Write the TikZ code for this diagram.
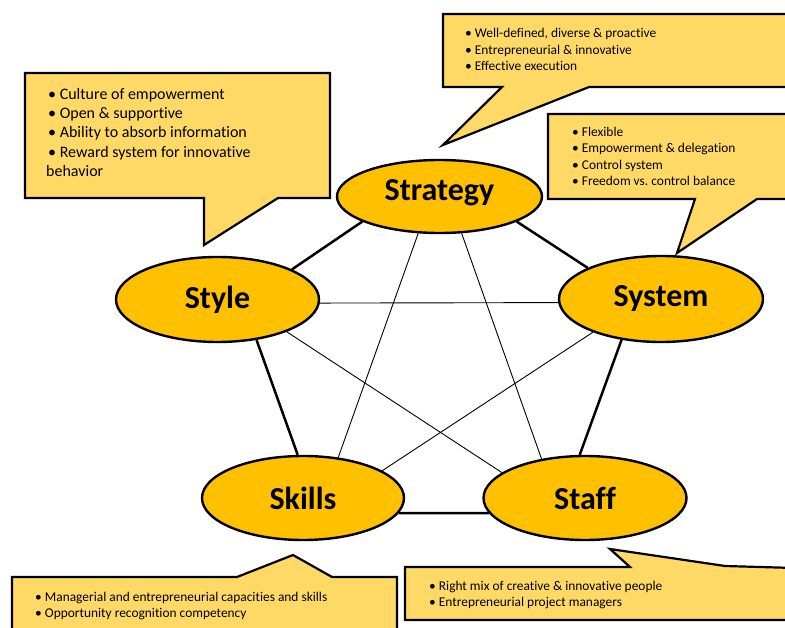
\documentclass[tikz,border=0pt]{standalone}
\usepackage{fontspec}
\setmainfont{Carlito}[Ligatures=NoCommon]
\usepackage{xcolor}
\usetikzlibrary{shapes, positioning}

\definecolor{gold}{HTML}{FFC000}
\definecolor{lightgold}{HTML}{FFD966}

\tikzset{
	factor/.style={ellipse, draw, line width=2.4pt, fill=gold, inner sep=0pt,
		font=\fontsize{32}{38}\selectfont\bfseries},
	callout/.style={draw, line width=2.2pt, fill=lightgold, line join=miter},
	notes/.style={anchor=north west, inner sep=0pt, align=left},
	outer/.style={line width=2.5pt},
	inner/.style={line width=0.9pt}
}

\begin{document}
\begin{tikzpicture}[x=1pt, y=-1pt]
			\useasboundingbox (0,0) rectangle (785,628);
			\clip (0,0) rectangle (785,628);
			
			% speech boxes
			\draw[callout] (25,73) -- (330,73) -- (330,198) -- (278,198) -- (204,245) -- (204,198) -- (25,198) -- cycle;
			\draw[callout] (443,14) -- (795,14) -- (795,87) -- (589,87) -- (443,145) -- (502,87) -- (443,87) -- cycle;
			\draw[callout] (548,114) -- (795,114) -- (795,199) -- (757,199) -- (677,253) -- (695,199) -- (548,199) -- cycle;
			\draw[callout] (12,577) -- (237,577) -- (293,555) -- (332,577) -- (397,577) -- (397,640) -- (12,640) -- cycle;
			\draw[callout] (405,567) -- (630,567) -- (610,549) -- (725,566) -- (795,568) -- (795,620) -- (405,620) -- cycle;
			
			\node[notes, font=\fontsize{16}{19.3}\selectfont] (styletext) at (46,88)
				{\hspace{2pt}• Culture of empowerment\\ \hspace{2pt}• Open \& supportive\\ \hspace{2pt}• Ability to absorb information\\ \hspace{2pt}• Reward system for innovative\\ behavior};
			\node[notes, font=\fontsize{13.4}{16.5}\selectfont] (strategytext) at (465,28)
				{• Well-defined, diverse \& proactive\\ • Entrepreneurial \& innovative\\ • Effective execution};
			\node[notes, font=\fontsize{13.4}{16.3}\selectfont] (systemtext) at (572,127)
				{• Flexible\\ • Empowerment \& delegation\\ • Control system\\ • Freedom vs.\ control balance};
			\node[notes, font=\fontsize{13.4}{16}\selectfont] (skillstext) at (35,592)
				{• Managerial and entrepreneurial capacities and skills\\ • Opportunity recognition competency};
			\node[notes, font=\fontsize{13.4}{16}\selectfont] (stafftext) at (429,581)
				{• Right mix of creative \& innovative people\\ • Entrepreneurial project managers};
			
			% the five factors
			\node[factor, minimum width=205pt, minimum height=73pt] (Strategy) at (439.5,196.5) {\raisebox{4pt}[\height][\depth]{Strategy}};
			\node[factor, minimum width=203pt, minimum height=85pt] (Style) at (217.5,299.5) {Style};
			\node[factor, minimum width=204pt, minimum height=86pt] (System) at (661,299) {System};
			\node[factor, minimum width=202pt, minimum height=84pt] (Skills) at (303,498) {Skills};
			\node[factor, minimum width=203pt, minimum height=84pt] (Staff) at (585,498) {Staff};
			
			\draw[outer] (Strategy.198) -- (Style.22);
			\draw[outer] (Strategy.-18) -- (System.157);
			\draw[outer] (Style.-46) -- (Skills.97);
			\draw[outer] (System.226) -- (Staff.97);
			\draw[outer] (Skills.-9) -- (Staff.189);
			
			\draw[inner] (Strategy.240) -- (Skills.49);
			\draw[inner] (Strategy.301) -- (Staff.138);
			\draw[inner] (Style.-2) -- (System.182);
			\draw[inner] (Style.-25) -- (Staff.163);
			\draw[inner] (System.206) -- (Skills.19);
		\end{tikzpicture}
\end{document}
